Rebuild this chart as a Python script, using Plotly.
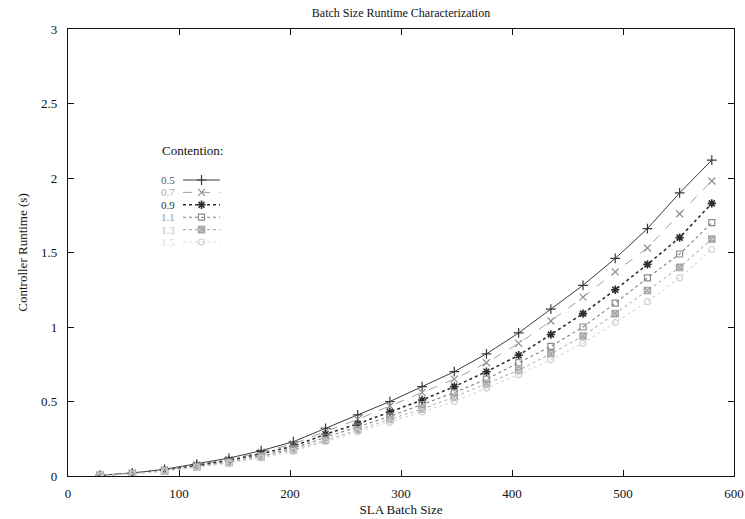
import plotly.graph_objects as go

# SLA batch sizes sampled
batch_size = [29, 58, 87, 116, 145, 174, 203, 232, 261, 290,
              319, 348, 377, 406, 435, 464, 493, 522, 551, 580]

# Controller runtime (s) for each contention level
runtime_05 = [0.005, 0.02, 0.045, 0.08, 0.12, 0.17, 0.23, 0.32, 0.41, 0.50,
              0.60, 0.70, 0.82, 0.96, 1.12, 1.28, 1.46, 1.66, 1.90, 2.12]
runtime_07 = [0.005, 0.02, 0.04, 0.075, 0.11, 0.16, 0.215, 0.30, 0.38, 0.47,
              0.56, 0.65, 0.76, 0.89, 1.04, 1.20, 1.37, 1.53, 1.76, 1.98]
runtime_09 = [0.004, 0.017, 0.038, 0.07, 0.105, 0.15, 0.20, 0.28, 0.35, 0.43,
              0.51, 0.60, 0.70, 0.81, 0.95, 1.09, 1.25, 1.42, 1.60, 1.83]
runtime_11 = [0.004, 0.016, 0.035, 0.065, 0.095, 0.135, 0.185, 0.26, 0.33, 0.40,
              0.48, 0.56, 0.65, 0.76, 0.87, 1.00, 1.16, 1.33, 1.49, 1.70]
runtime_13 = [0.004, 0.015, 0.033, 0.06, 0.09, 0.13, 0.175, 0.24, 0.31, 0.38,
              0.45, 0.53, 0.62, 0.71, 0.82, 0.94, 1.09, 1.245, 1.40, 1.59]
runtime_15 = [0.003, 0.014, 0.031, 0.057, 0.085, 0.12, 0.165, 0.23, 0.295, 0.36,
              0.43, 0.50, 0.59, 0.68, 0.78, 0.89, 1.03, 1.17, 1.33, 1.52]

contention_labels = ["0.5", "0.7", "0.9", "1.1", "1.3", "1.5"]
series = [runtime_05, runtime_07, runtime_09, runtime_11, runtime_13, runtime_15]

x_ticks = [0, 100, 200, 300, 400, 500, 600]
y_ticks = [0, 0.5, 1, 1.5, 2, 2.5, 3]
y_tick_text = ["0", "0.5", "1", "1.5", "2", "2.5", "3"]

FONT = "Liberation Serif"

# plot-area geometry in pixels
W, H = 745, 519
L, R, T, B = 68, 734, 29, 476


def px_x(p):
    return (p - L) / (R - L)


def px_y(p):
    return (B - p) / (B - T)


styles = [
    dict(color="#3a3a3a", dash="solid", width=1.0, symbol="cross-thin", msize=7, mwidth=1.2, mcolor="#3a3a3a", tcolor="#555"),
    dict(color="#a0a0a0", dash="dash", width=1.0, symbol="x-thin", msize=7, mwidth=1.2, mcolor="#909090", tcolor="#aaa"),
    dict(color="#2e2e2e", dash="dot", width=1.6, symbol="asterisk-open", msize=7, mwidth=1.6, mcolor="#2e2e2e", tcolor="#333"),
    dict(color="#808080", dash="dot", width=1.1, symbol="square-open", msize=6, mwidth=1.2, mcolor="#8a8a8a", tcolor="#999"),
    dict(color="#b4b4b4", dash="dot", width=1.1, symbol="square-x-open", msize=6, mwidth=1.6, mcolor="#a8a8a8", tcolor="#bbb"),
    dict(color="#d8d8d8", dash="dot", width=1.1, symbol="circle-open", msize=6, mwidth=1.2, mcolor="#d0d0d0", tcolor="#ddd"),
]

fig = go.Figure()

for label, ys, st in zip(contention_labels, series, styles):
    fig.add_trace(go.Scatter(
        x=batch_size, y=ys, mode="lines+markers", name=label,
        line=dict(color=st["color"], dash=st["dash"], width=st["width"]),
        marker=dict(symbol=st["symbol"], size=st["msize"],
                    color=st["mcolor"], line=dict(color=st["mcolor"], width=st["mwidth"])),
        showlegend=False,
    ))

# Key: label on the left, line sample with its marker on the right
key_top, key_step = 180, 12.4
for row, (label, st) in enumerate(zip(contention_labels, styles)):
    yk = -row
    fig.add_trace(go.Scatter(
        x=[0, 1], y=[yk, yk], mode="lines", xaxis="x2", yaxis="y2",
        line=dict(color=st["color"], dash=st["dash"], width=st["width"]),
        showlegend=False, hoverinfo="skip",
    ))
    fig.add_trace(go.Scatter(
        x=[0.5], y=[yk], mode="markers", xaxis="x2", yaxis="y2",
        marker=dict(symbol=st["symbol"], size=st["msize"],
                    color=st["mcolor"], line=dict(color=st["mcolor"], width=st["mwidth"])),
        showlegend=False, hoverinfo="skip",
    ))
    fig.add_annotation(
        x=px_x(176), y=px_y(key_top + row * key_step), xref="paper", yref="paper",
        text=label, showarrow=False, xanchor="right", yanchor="middle",
        font=dict(family=FONT, size=11, color=st["tcolor"]),
        borderpad=0,
    )

fig.add_annotation(
    x=px_x(160), y=px_y(150), xref="paper", yref="paper", text="Contention:",
    showarrow=False, xanchor="left", yanchor="middle",
    font=dict(family=FONT, size=13, color="#111"),
)

axis_common = dict(
    showgrid=False, zeroline=False, showline=True, linecolor="#111", linewidth=1.4,
    mirror="ticks", ticks="inside", ticklen=6, tickwidth=1.2, tickcolor="#111",
    tickfont=dict(family=FONT, size=13, color="#111"), automargin=False,
)

fig.update_layout(
    width=W, height=H,
    margin=dict(l=L, r=W - R, t=T, b=H - B, autoexpand=False),
    paper_bgcolor="white", plot_bgcolor="white",
    title=dict(text="Batch Size Runtime Characterization", x=(L + R) / 2 / W, xanchor="center",
               y=1 - 13 / H, yanchor="middle", font=dict(family=FONT, size=12, color="#111")),
    xaxis=dict(range=[0, 600], tickvals=x_ticks, ticklabelstandoff=5,
               title=dict(text="SLA Batch Size", font=dict(family=FONT, size=13, color="#111"), standoff=5),
               **axis_common),
    yaxis=dict(range=[0, 3], tickvals=y_ticks, ticktext=y_tick_text, ticklabelstandoff=7,
               title=dict(text="Controller Runtime (s)", font=dict(family=FONT, size=13, color="#111"), standoff=10),
               **axis_common),
    xaxis2=dict(domain=[px_x(183), px_x(220)], range=[0, 1], visible=False, anchor="y2"),
    yaxis2=dict(domain=[px_y(key_top + 5.5 * key_step), px_y(key_top - 0.5 * key_step)],
                range=[-5.5, 0.5], visible=False, anchor="x2"),
)

fig.write_html("out.html")
